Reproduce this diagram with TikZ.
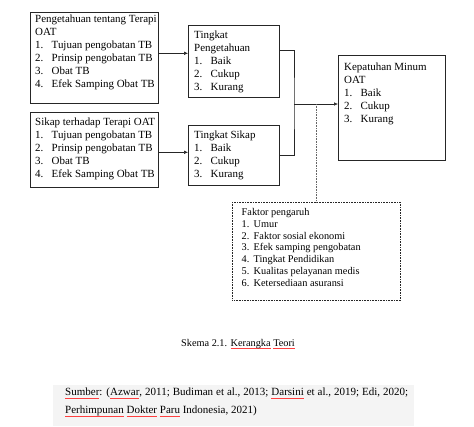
\documentclass[tikz,border=0pt]{standalone}
\usepackage{fontspec}
\setmainfont{Liberation Serif}
\usetikzlibrary{arrows.meta}
\newsavebox\redsqbox
\newcommand\redsq[1]{\sbox\redsqbox{#1}\rlap{\textcolor{red!75!white}{\rule[-2.2pt]{\wd\redsqbox}{0.4pt}}}\usebox\redsqbox}
\newcommand\itm[2]{\makebox[16.5pt][l]{#1}#2}
\newcommand\itms[2]{\makebox[12pt][l]{#1}#2}
\begin{document}
\begin{tikzpicture}[x=1pt,y=-1pt,
  box/.style={draw=black!85, line width=0.6pt, anchor=north west, inner sep=0pt},
  dbox/.style={box, densely dotted},
  txt/.style={anchor=north west, inner sep=0pt, align=left, font=\fontsize{10.95}{13}\selectfont},
  stxt/.style={anchor=north west, inner sep=0pt, align=left, font=\fontsize{10.3}{11.7}\selectfont},
  conn/.style={draw=black!85, line width=0.6pt},
  arr/.style={conn, -{Latex[length=4pt,width=3.6pt]}},
  dotline/.style={draw=black!60, line width=0.6pt, densely dotted}]
\useasboundingbox (0,0) rectangle (474,426);
% grey band behind the source text
\fill[fill={rgb,255:red,244;green,244;blue,244}] (53,385) rectangle (414,426);
% boxes
\node[box, minimum width=128, minimum height=91] (b1) at (30,12) {};
\node[box, minimum width=128, minimum height=75] (b2) at (30,112) {};
\node[box, minimum width=91, minimum height=72] (b3) at (188,25) {};
\node[box, minimum width=91, minimum height=60] (b4) at (188,125) {};
\node[box, minimum width=107, minimum height=105] (b5) at (338,55) {};
\node[dbox, minimum width=168, minimum height=98] (b6) at (232,202) {};
% texts
\node[txt] (t1) at (35,14.6) {Pengetahuan tentang Terapi\\OAT\\\itm{1.}{Tujuan pengobatan TB}\\\itm{2.}{Prinsip pengobatan TB}\\\itm{3.}{Obat TB}\\\itm{4.}{Efek Samping Obat TB}};
\node[txt] (t2) at (35,117.6) {Sikap terhadap Terapi OAT\\\itm{1.}{Tujuan pengobatan TB}\\\itm{2.}{Prinsip pengobatan TB}\\\itm{3.}{Obat TB}\\\itm{4.}{Efek Samping Obat TB}};
\node[txt] (t3) at (194,31.1) {Tingkat\\Pengetahuan\\\itm{1.}{Baik}\\\itm{2.}{Cukup}\\\itm{3.}{Kurang}};
\node[txt] (t4) at (194,131.1) {Tingkat Sikap\\\itm{1.}{Baik}\\\itm{2.}{Cukup}\\\itm{3.}{Kurang}};
\node[txt] (t5) at (344,62.6) {Kepatuhan Minum\\OAT\\\itm{1.}{Baik}\\\itm{2.}{Cukup}\\\itm{3.}{Kurang}};
\node[stxt] (t6) at (241.5,208.5) {Faktor pengaruh\\\itms{1.}{Umur}\\\itms{2.}{Faktor sosial ekonomi}\\\itms{3.}{Efek samping pengobatan}\\\itms{4.}{Tingkat Pendidikan}\\\itms{5.}{Kualitas pelayanan medis}\\\itms{6.}{Ketersediaan asuransi}};
% connectors
\coordinate (j) at (294,104);
\draw[arr] ([yshift=4.5pt]b1.east) -- ([yshift=4.5pt]b1.east -| b3.west);
\draw[arr] ([yshift=-2.5pt]b2.east) -- ([yshift=-2.5pt]b2.east -| b4.west);
\draw[conn] ([yshift=11pt]b3.east) -| (j) |- (b4.east);
\draw[arr] (j) -- (j -| b5.west);
\draw[dotline] (b6.north |- j) -- (b6.north);
% caption and source
\node[anchor=base, inner sep=0pt, font=\fontsize{10.3}{12}\selectfont] (cap) at (238,346.5) {Skema 2.1. \redsq{Kerangka} \redsq{Teori}};
\node[anchor=base west, inner sep=0pt, font=\fontsize{11}{18}\selectfont] (src1) at (65,395.8) {\makebox[343pt][s]{\redsq{Sumber}: (\redsq{Azwar}, 2011; Budiman et al., 2013; \redsq{Darsini} et al., 2019; Edi, 2020;}};
\node[anchor=base west, inner sep=0pt, font=\fontsize{11}{18}\selectfont] (src2) at (65,413.8) {\redsq{Perhimpunan} \redsq{Dokter} \redsq{Paru} Indonesia, 2021)};
\end{tikzpicture}
\end{document}
